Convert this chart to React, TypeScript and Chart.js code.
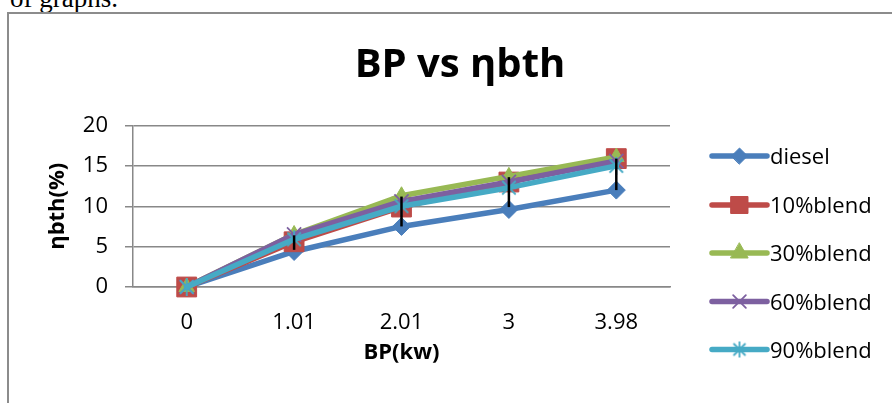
import React, { useEffect, useRef } from 'react';
import { Chart, registerables } from 'chart.js';
import { drawPoint } from 'chart.js/helpers';

Chart.register(...registerables);

// ---- data ----
const categories = ['0', '1.01', '2.01', '3', '3.98'];
const diesel = [0, 4.4, 7.5, 9.6, 12.0];
const blend10 = [0, 5.6, 9.9, 13.0, 15.9];
const blend30 = [0, 6.5, 11.3, 13.7, 16.1];
const blend60 = [0, 6.5, 10.6, 13.0, 15.6];
const blend90 = [0, 5.9, 10.0, 12.3, 15.0];
const errLow = [null, 4.6, 7.5, 9.9, 12.0];
const errHigh = [null, 6.4, 11.2, 13.6, 15.9];
const yMin = 0;
const yMax = 20;
const yStep = 5;

const titleText = 'BP vs ηbth';
const xTitle = 'BP(kw)';
const yTitle = 'ηbth(%)';

const FONT = '"Open Sans", "Noto Sans", sans-serif';

function makeStar(color: string, size: number, lw: number) {
  const c = document.createElement('canvas');
  c.width = size;
  c.height = size;
  const g = c.getContext('2d')!;
  g.strokeStyle = color;
  g.lineWidth = lw;
  const m = size / 2;
  const r = size / 2 - 1;
  const d = r * 0.75;
  g.beginPath();
  g.moveTo(m - d, m - d);
  g.lineTo(m + d, m + d);
  g.moveTo(m + d, m - d);
  g.lineTo(m - d, m + d);
  g.moveTo(m, m - r);
  g.lineTo(m, m + r);
  g.stroke();
  return c;
}

export default function App() {
  const ref = useRef<HTMLCanvasElement>(null);

  useEffect(() => {
    const colors = ['#4A7EBB', '#BE4B48', '#98B954', '#7D60A0', '#46AAC5'];
    const star = makeStar(colors[4], 20, 1.8);
    const starLegend = makeStar(colors[4], 18, 1.8);
    const series = [
      { label: 'diesel', data: diesel, style: 'rectRot' as any, radius: 9, legendStyle: 'rectRot' as any, legendRadius: 8 },
      { label: '10%blend', data: blend10, style: 'rect' as any, radius: 14, legendStyle: 'rect' as any, legendRadius: 12 },
      { label: '30%blend', data: blend30, style: 'triangle' as any, radius: 9, legendStyle: 'triangle' as any, legendRadius: 10 },
      { label: '60%blend', data: blend60, style: 'crossRot' as any, radius: 10, legendStyle: 'crossRot' as any, legendRadius: 9 },
      { label: '90%blend', data: blend90, style: star as any, radius: 10, legendStyle: starLegend as any, legendRadius: 9 },
    ];

    const datasets = series.map((s, i) => ({
      label: s.label,
      data: s.data,
      borderColor: colors[i],
      backgroundColor: colors[i],
      borderWidth: 5.5,
      borderCapStyle: 'round' as const,
      borderJoinStyle: 'round' as const,
      pointStyle: s.style,
      pointRadius: s.radius,
      pointHoverRadius: s.radius,
      pointBorderWidth: i === 3 ? 1.8 : 1,
      pointBackgroundColor: colors[i],
      pointBorderColor: colors[i],
      tension: 0,
      clip: false as any,
      order: 5 - i,
    }));

    const legendYs = [156, 205, 253, 301.5, 349.5];

    const errorBars = {
      id: 'errorBars',
      afterDatasetsDraw(chart: any) {
        const ctx = chart.ctx;
        const xs = chart.scales.x;
        const ys = chart.scales.y;
        ctx.save();
        ctx.strokeStyle = '#000';
        ctx.lineWidth = 2.5;
        for (let i = 0; i < categories.length; i++) {
          const lo = errLow[i];
          const hi = errHigh[i];
          if (lo == null || hi == null) continue;
          const x = xs.getPixelForValue(i);
          ctx.beginPath();
          ctx.moveTo(x, ys.getPixelForValue(lo));
          ctx.lineTo(x, ys.getPixelForValue(hi));
          ctx.stroke();
        }
        ctx.restore();
      },
    };

    const decorations = {
      id: 'decorations',
      afterDraw(chart: any) {
        const ctx = chart.ctx;
        const area = chart.chartArea;
        ctx.save();
        ctx.fillStyle = '#000';
        // title
        ctx.font = `bold 40px ${FONT}`;
        ctx.textAlign = 'center';
        ctx.textBaseline = 'alphabetic';
        ctx.fillText(titleText, 460, 77);
        // x title
        ctx.font = `bold 22px ${FONT}`;
        ctx.fillText(xTitle, (area.left + area.right) / 2, 359);
        // y title
        ctx.save();
        ctx.translate(64, (area.top + area.bottom) / 2);
        ctx.rotate(-Math.PI / 2);
        ctx.fillText(yTitle, 0, 0);
        ctx.restore();
        // legend
        const lx0 = area.right + 42;
        const lx1 = lx0 + 55;
        const mx = (lx0 + lx1) / 2;
        series.forEach((s, i) => {
          const y = legendYs[i];
          ctx.strokeStyle = colors[i];
          ctx.fillStyle = colors[i];
          ctx.lineWidth = 5.5;
          ctx.lineCap = 'round';
          ctx.beginPath();
          ctx.moveTo(lx0, y);
          ctx.lineTo(lx1, y);
          ctx.stroke();
          ctx.lineWidth = i === 3 ? 1.8 : 1;
          drawPoint(ctx, { pointStyle: s.legendStyle, radius: s.legendRadius, borderWidth: ctx.lineWidth, rotation: 0 } as any, mx, y);
          ctx.fillStyle = '#000';
          ctx.font = `22px ${FONT}`;
          ctx.textAlign = 'left';
          ctx.textBaseline = 'alphabetic';
          ctx.fillText(s.label, lx1 + 3, y + 8);
        });
        ctx.restore();
      },
    };

    const chart = new Chart(ref.current!, {
      type: 'line',
      data: { labels: categories, datasets },
      options: {
        responsive: false,
        animation: false,
        devicePixelRatio: 1,
        layout: { padding: { left: 0, top: 125.5, right: 222, bottom: 0 } },
        plugins: {
          legend: { display: false },
          title: { display: false },
          tooltip: { enabled: false },
        },
        events: [],
        scales: {
          x: {
            type: 'category',
            offset: true,
            grid: { display: false },
            border: { display: true, color: '#888', width: 1.5 },
            ticks: {
              font: { family: FONT, size: 22 },
              color: '#000',
              padding: 15,
              maxRotation: 0,
              autoSkip: false,
            },
            afterFit: (s: any) => {
              s.height = 116;
            },
          },
          y: {
            min: yMin,
            max: yMax,
            ticks: {
              stepSize: yStep,
              font: { family: FONT, size: 22 },
              color: '#000',
              padding: 17,
            },
            grid: { color: '#888', lineWidth: 1.5, tickLength: 8, drawTicks: true },
            border: { display: true, color: '#888', width: 1.5 },
            afterFit: (s: any) => {
              s.width = 133;
            },
          },
        },
      },
      plugins: [errorBars, decorations],
    } as any);

    let alive = true;
    Promise.all([
      document.fonts.load(`22px "Open Sans"`),
      document.fonts.load(`bold 22px "Open Sans"`),
    ]).then(() => {
      if (alive) chart.update();
    });

    return () => {
      alive = false;
      chart.destroy();
    };
  }, []);

  return (
    <div
      style={{
        position: 'fixed',
        left: 0,
        top: 0,
        width: 892,
        height: 403,
        overflow: 'hidden',
        background: '#fff',
      }}
    >
      <div
        style={{
          position: 'absolute',
          left: 10,
          top: -14.6,
          font: '27px "Liberation Serif", "DejaVu Serif", serif',
          lineHeight: '27px',
          whiteSpace: 'nowrap',
          color: '#000',
        }}
      >
        of graphs.
      </div>
      <div
        style={{
          position: 'absolute',
          left: 7,
          top: 12,
          width: 1000,
          height: 1000,
          borderLeft: '2px solid #8c8c8c',
          borderTop: '2px solid #8c8c8c',
        }}
      />
      <canvas
        ref={ref}
        width={892}
        height={403}
        style={{ position: 'absolute', left: 0, top: 0, width: 892, height: 403 }}
      />
    </div>
  );
}
